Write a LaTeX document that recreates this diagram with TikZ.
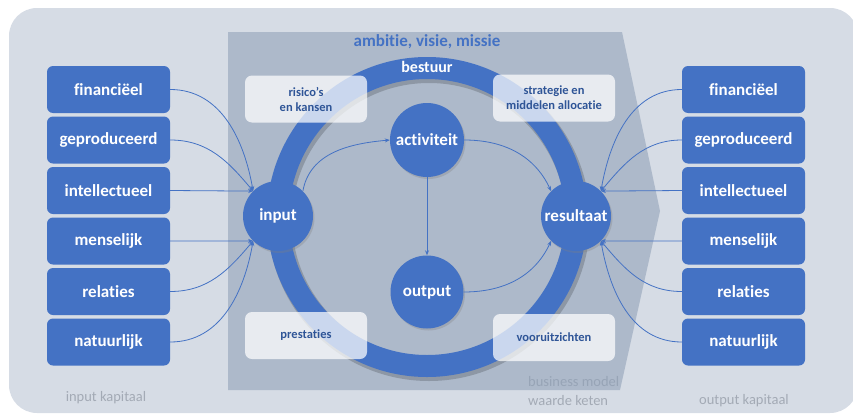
\documentclass[tikz,border=0pt]{standalone}
\usepackage{fontspec}
\setmainfont[Ligatures=NoCommon]{Carlito}
\usetikzlibrary{arrows.meta,shadows}
\definecolor{mblue}{HTML}{4472C4}
\definecolor{bgpanel}{HTML}{D6DCE5}
\definecolor{chevfill}{HTML}{ADB9CA}
\definecolor{noteblue}{HTML}{2F5597}
\definecolor{lightgray}{HTML}{A3AAB5}
\definecolor{modelgray}{HTML}{97A4B6}
\tikzset{
  capbox/.style={fill=mblue, text=white, font=\bfseries\fontsize{17}{20}\selectfont,
    rounded corners=6pt, minimum width=123pt, minimum height=47pt, inner sep=0pt},
  stage/.style={circle, fill=mblue, text=white, font=\bfseries\fontsize{17}{20}\selectfont,
    inner sep=0pt, drop shadow={shadow xshift=1.5pt, shadow yshift=-2pt, opacity=0.3}},
  note/.style={fill=white, fill opacity=0.72, text opacity=1, text=noteblue,
    font=\bfseries\fontsize{12.5}{15}\selectfont, align=center, rounded corners=7pt,
    minimum width=122pt, minimum height=47pt, inner sep=0pt},
  flow/.style={draw=mblue, line width=0.8pt, -{Stealth[length=5pt,width=4pt]}},
  caption/.style={font=\fontsize{14.5}{17}\selectfont, inner sep=0pt},
}
\begin{document}
\begin{tikzpicture}[x=1pt, y=-1pt]
\useasboundingbox (0,0) rectangle (853,415);
% background panel and value-chain chevron
\fill[bgpanel, rounded corners=28pt] (9,8) rectangle (858,413);
\fill[chevfill] (228,32) -- (622,32) -- (660,211) -- (620,390) -- (228,390) -- cycle;

% governance ring
\draw[black, opacity=0.18, line width=24pt] (429,220) circle[radius=149pt];
\draw[mblue, line width=22pt] (427,217) circle[radius=149pt];
\node[text=white, font=\bfseries\fontsize{16}{19}\selectfont] (bestuur) at (427,67) {bestuur};
\node[text=mblue, font=\bfseries\fontsize{17}{20}\selectfont] (ambitie) at (427,42) {ambitie, visie, missie};

% notes on the ring
\node[note] (risico) at (306,99) {risico’s\\en kansen};
\node[note] (strategie) at (554,98) {strategie en\\middelen allocatie};
\node[note] (prestaties) at (306,335.5) {prestaties};
\node[note] (vooruit) at (554,337.5) {vooruitzichten};

% stages of the business model
\node[stage, minimum size=70pt] (input) at (278,216) {input};
\node[stage, minimum size=74pt] (activiteit) at (427,140) {activiteit};
\node[stage, minimum size=73pt] (output) at (427,292) {output};
\node[stage, minimum size=70pt] (resultaat) at (576,216) {resultaat};

% capitals
\foreach \n/\t/\y in {1/financiëel/89.5, 2/geproduceerd/140, 3/intellectueel/190.5,
                     4/menselijk/241, 5/relaties/291.5, 6/natuurlijk/342}{
  \node[capbox] (L\n) at (108.5,\y) {\t};
  \node[capbox] (R\n) at (743.5,\y) {\t};
}

% capital flows into input
\draw[flow] (L1.east) to[out=0, in=100] (input.135);
\draw[flow] (L2.east) to[out=0, in=130] (input.135);
\draw[flow] (L3.east) -- (input.135);
\draw[flow] (L4.east) -- (input.225);
\draw[flow] (L5.east) to[out=0, in=-130] (input.225);
\draw[flow] (L6.east) to[out=0, in=-100] (input.225);

% capital flows into resultaat
\draw[flow] (R1.west) to[out=180, in=80] (resultaat.45);
\draw[flow] (R2.west) to[out=180, in=50] (resultaat.45);
\draw[flow] (R3.west) -- (resultaat.45);
\draw[flow] (R4.west) -- (resultaat.-45);
\draw[flow] (R5.west) to[out=180, in=-50] (resultaat.-45);
\draw[flow] (R6.west) to[out=180, in=-80] (resultaat.-45);

% internal chain
\draw[flow] (input.45) to[out=80, in=185] (activiteit.west);
\draw[flow] (activiteit.east) to[out=0, in=115] (resultaat.135);
\draw[flow] (activiteit.south) -- (output.north);
\draw[flow] (output.east) to[out=0, in=-115] (resultaat.-135);

% captions
\node[caption, text=lightgray] (inkap) at (106,398) {input kapitaal};
\node[caption, text=lightgray] (outkap) at (744,401) {output kapitaal};
\node[caption, text=modelgray, anchor=west] (bm) at (528,382) {business model};
\node[caption, text=lightgray, anchor=west] (wk) at (528,401) {waarde keten};
\end{tikzpicture}
\end{document}
